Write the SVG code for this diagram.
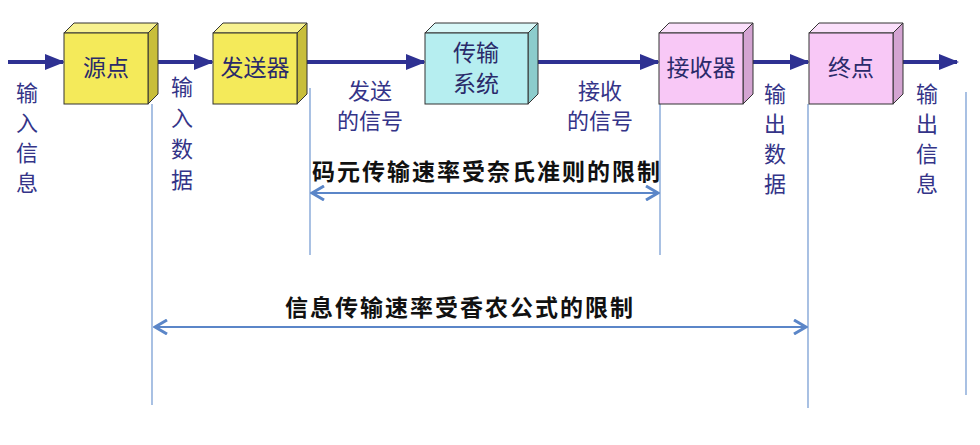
<svg xmlns="http://www.w3.org/2000/svg" width="980" height="445" viewBox="0 0 980 445">
<style>
.lbl{font-family:"Noto Sans CJK SC","Noto Sans",sans-serif;font-size:22px;fill:#343488;text-anchor:middle}
.box{font-family:"Noto Sans CJK SC","Noto Sans",sans-serif;font-size:23px;fill:#2a2a6a;text-anchor:middle}
.ttl{font-family:"Noto Sans CJK SC","Noto Sans",sans-serif;font-size:23px;fill:#111;text-anchor:middle;font-weight:bold;letter-spacing:2px}
.flow{stroke:#2e3192;stroke-width:4;fill:none;marker-end:url(#ah)}
.vl{stroke:#7a9fd4;stroke-width:1.3;fill:none}
.dim{stroke:#5b86c8;stroke-width:2;fill:none;marker-start:url(#dh);marker-end:url(#dh)}
.edge{stroke:#333;stroke-width:1}
</style>
<defs>
<marker id="ah" markerWidth="5" markerHeight="4" refX="4.5" refY="2" orient="auto" markerUnits="strokeWidth">
<path d="M0,0 L5,2 L0,4 Z" fill="#2e3192"/>
</marker>
<marker id="dh" markerWidth="8" markerHeight="8" refX="7" refY="4" orient="auto-start-reverse" markerUnits="strokeWidth">
<path d="M1,0.5 L7,4 L1,7.5" fill="none" stroke="#5b86c8" stroke-width="1.5"/>
</marker>
</defs>
<rect width="980" height="445" fill="#fff"/>
<g id="connectors">
<line class="flow" x1="8" y1="62" x2="63" y2="62"/>
<line class="flow" x1="158" y1="62" x2="212" y2="62"/>
<line class="flow" x1="307" y1="62" x2="424" y2="62"/>
<line class="flow" x1="538" y1="62" x2="658" y2="62"/>
<line class="flow" x1="753" y1="62" x2="808" y2="62"/>
<line class="flow" x1="903" y1="62" x2="957" y2="62"/>
<line class="vl" x1="152" y1="104" x2="152" y2="405"/>
<line class="vl" x1="310" y1="88" x2="310" y2="255"/>
<line class="vl" x1="660" y1="104" x2="660" y2="255"/>
<line class="vl" x1="808" y1="104" x2="808" y2="408"/>
<line class="vl" x1="966" y1="92" x2="966" y2="395"/>
<line class="dim" x1="312" y1="193" x2="658" y2="193"/>
<line class="dim" x1="155" y1="327" x2="806" y2="327"/>
</g>
<g id="n-source">
<polygon class="edge" points="64,33 74,23 158,23 148,33" fill="#f8f290"/>
<polygon class="edge" points="148,33 158,23 158,94 148,104" fill="#c8be3a"/>
<rect class="edge" x="64" y="33" width="84" height="71" fill="#f4ea5a"/>
<text class="box" x="106" y="76">源点</text>
</g>
<g id="n-sender">
<polygon class="edge" points="213,33 223,23 307,23 297,33" fill="#f8f290"/>
<polygon class="edge" points="297,33 307,23 307,94 297,104" fill="#c8be3a"/>
<rect class="edge" x="213" y="33" width="84" height="71" fill="#f4ea5a"/>
<text class="box" x="255" y="76">发送器</text>
</g>
<g id="n-trans">
<polygon class="edge" points="425,33 435,23 538,23 528,33" fill="#d8f8f8"/>
<polygon class="edge" points="528,33 538,23 538,94 528,104" fill="#8ccccc"/>
<rect class="edge" x="425" y="33" width="103" height="71" fill="#b6eef0"/>
<text class="box" x="476" y="61">传输</text>
<text class="box" x="476" y="92">系统</text>
</g>
<g id="n-receiver">
<polygon class="edge" points="659,33 669,23 753,23 743,33" fill="#fbe0fb"/>
<polygon class="edge" points="743,33 753,23 753,94 743,104" fill="#d4a4d2"/>
<rect class="edge" x="659" y="33" width="84" height="71" fill="#f8c8f6"/>
<text class="box" x="701" y="76">接收器</text>
</g>
<g id="n-dest">
<polygon class="edge" points="809,33 819,23 903,23 893,33" fill="#fbe0fb"/>
<polygon class="edge" points="893,33 903,23 903,94 893,104" fill="#d4a4d2"/>
<rect class="edge" x="809" y="33" width="84" height="71" fill="#f8c8f6"/>
<text class="box" x="851" y="76">终点</text>
</g>
<g id="labels">
<text class="lbl" x="27"><tspan x="27" y="101">输</tspan><tspan x="27" y="131">入</tspan><tspan x="27" y="161">信</tspan><tspan x="27" y="191">息</tspan></text>
<text class="lbl" x="182"><tspan x="182" y="95">输</tspan><tspan x="182" y="126">入</tspan><tspan x="182" y="157">数</tspan><tspan x="182" y="188">据</tspan></text>
<text class="lbl" x="370"><tspan x="370" y="99">发送</tspan><tspan x="370" y="129">的信号</tspan></text>
<text class="lbl" x="600"><tspan x="600" y="99">接收</tspan><tspan x="600" y="129">的信号</tspan></text>
<text class="lbl" x="775"><tspan x="775" y="102">输</tspan><tspan x="775" y="132">出</tspan><tspan x="775" y="162">数</tspan><tspan x="775" y="192">据</tspan></text>
<text class="lbl" x="927"><tspan x="927" y="102">输</tspan><tspan x="927" y="132">出</tspan><tspan x="927" y="162">信</tspan><tspan x="927" y="192">息</tspan></text>
<text class="ttl" x="487" y="180">码元传输速率受奈氏准则的限制</text>
<text class="ttl" x="460" y="316">信息传输速率受香农公式的限制</text>
</g>
</svg>
